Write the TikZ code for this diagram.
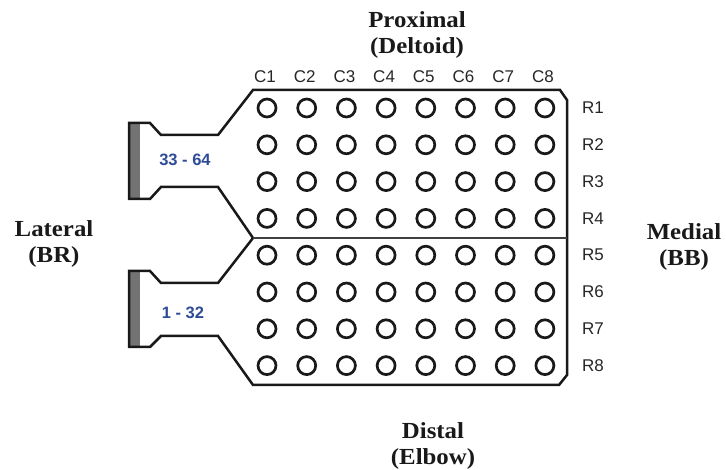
\documentclass[tikz,border=0pt]{standalone}
\usepackage{fontspec}
\setmainfont{Liberation Serif}
\setsansfont{Liberation Sans}
\begin{document}
\begin{tikzpicture}[x=1pt,y=-1pt,
  outline/.style={line width=2.5pt,line join=miter,black!90},
  hole/.style={circle,draw=black!90,line width=2.7pt,minimum size=18pt,inner sep=0pt},
  lab/.style={font=\sffamily\fontsize{17}{18}\selectfont,text=black!85},
  rng/.style={font=\sffamily\bfseries\fontsize{16.5}{18}\selectfont,text={rgb,255:red,45;green,75;blue,150}},
  side/.style={font=\bfseries\fontsize{23}{26}\selectfont,align=center,text=black!90}]
\useasboundingbox (0,0) rectangle (726,470);
% connectors' grey bars
\fill[black!55] (129,123) rectangle (140,199);
\fill[black!55] (129,271) rectangle (140,347);
% outline
\draw[outline] (253,90) -- (560,90) -- (567,100) -- (567,375) -- (559,385) -- (253,385)
  -- (218,336) -- (161,336) -- (150,347) -- (129,347) -- (129,271) -- (150,271) -- (161,283)
  -- (218,283) -- (253,238) -- (218,187) -- (161,187) -- (150,199) -- (129,199)
  -- (129,123) -- (150,123) -- (161,135) -- (218,135) -- cycle;
\coordinate (ml) at (253,238);
\coordinate (mr) at (567,238);
\draw[line width=2pt,black!75] (ml) -- (mr);
% holes
\foreach \c in {1,...,8}{
  \foreach \r in {1,...,8}{
    \node[hole] (h\c\r) at ({267+(\c-1)*39.7},{108+(\r-1)*36.8}) {};
  }
  \node[lab] (c\c) at ({265+(\c-1)*39.7},77) {C\c};
}
\foreach \r in {1,...,8}{
  \node[lab] (r\r) at (593,{108+(\r-1)*36.8}) {R\r};
}
\node[rng] (top) at (185,160) {33 - 64};
\node[rng] (bot) at (183,313) {1 - 32};
\node[side] (prox) at (417,35) {\scalebox{1.08}[1]{Proximal}\\\scalebox{1.08}[1]{(Deltoid)}};
\node[side] (dist) at (433,446) {\scalebox{1.08}[1]{Distal}\\\scalebox{1.08}[1]{(Elbow)}};
\node[side] (lat) at (54,244) {\scalebox{1.08}[1]{Lateral}\\\scalebox{1.08}[1]{(BR)}};
\node[side] (med) at (684,247) {\scalebox{1.08}[1]{Medial}\\\scalebox{1.08}[1]{(BB)}};
\end{tikzpicture}
\end{document}
